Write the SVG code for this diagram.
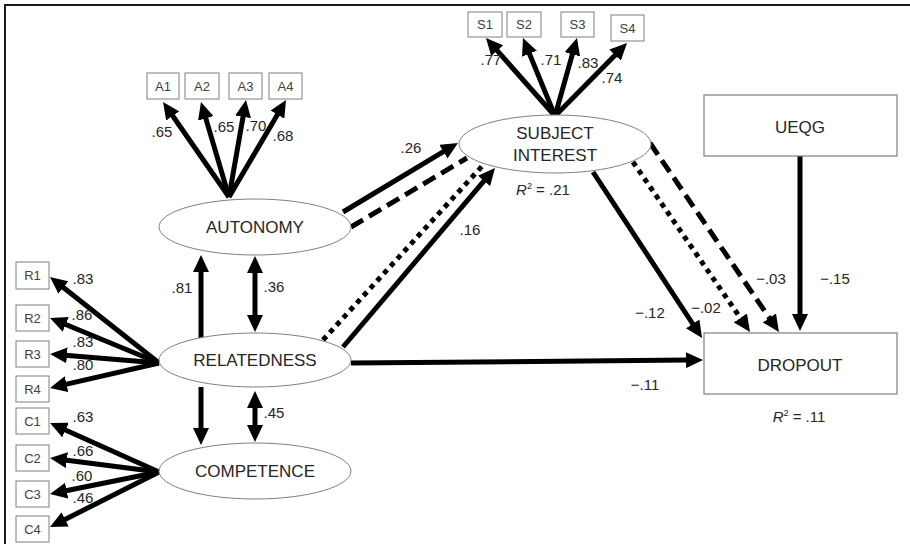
<svg xmlns="http://www.w3.org/2000/svg" width="910" height="544" viewBox="0 0 910 544">
<defs>
<marker id="ah" markerUnits="userSpaceOnUse" markerWidth="17" markerHeight="16" viewBox="0 0 17 16" refX="2" refY="8" orient="auto-start-reverse">
<path d="M0,0 L17,8 L0,16 z" fill="#000" stroke="none"/>
</marker>
</defs>
<style>
.bg{fill:#fff}
.frame{stroke:#1a1a1a;stroke-width:2;fill:none}
.ind{fill:#fff;stroke:#7f7f7f;stroke-width:1}
.lat{fill:#fff;stroke:#7f7f7f;stroke-width:1}
.obs{fill:#fff;stroke:#7f7f7f;stroke-width:1.2}
.il{font-family:"Liberation Sans",Arial,sans-serif;font-size:13px;fill:#404040;text-anchor:middle}
.nl{font-family:"Liberation Sans",Arial,sans-serif;font-size:17px;fill:#262626;text-anchor:middle}
.el{font-family:"Liberation Sans",Arial,sans-serif;font-size:15px;fill:#262626;text-anchor:middle}
.rs{font-family:"Liberation Sans",Arial,sans-serif;font-size:15px;fill:#262626;text-anchor:middle}
.a{stroke:#000;stroke-width:5;fill:none;marker-end:url(#ah)}
.d{stroke:#000;stroke-width:5;fill:none;marker-start:url(#ah);marker-end:url(#ah)}
.p{stroke:#000;stroke-width:5;fill:none}
.dash{stroke-dasharray:14 7}
.dot{stroke-dasharray:5 5}
</style>
<rect class="bg" x="0" y="0" width="910" height="544"/>
<path class="frame" d="M5,544 L5,5 L910,5"/>

<g id="connectors">
<line class="a" x1="229" y1="197" x2="171.6" y2="114.3"/>
<line class="a" x1="229" y1="197" x2="205.2" y2="116.4"/>
<line class="a" x1="229" y1="197" x2="243.4" y2="114.8"/>
<line class="a" x1="229" y1="197" x2="278.4" y2="112.9"/>
<line class="a" x1="555" y1="116" x2="495.9" y2="49.2"/>
<line class="a" x1="555" y1="116" x2="528.7" y2="51.9"/>
<line class="a" x1="555" y1="116" x2="572.9" y2="52.4"/>
<line class="a" x1="555" y1="116" x2="616.5" y2="53.7"/>
<line class="a" x1="159" y1="363" x2="61.8" y2="286.3"/>
<line class="a" x1="159" y1="363" x2="63.9" y2="323.7"/>
<line class="a" x1="159" y1="363" x2="65" y2="355.2"/>
<line class="a" x1="159" y1="363" x2="64.6" y2="384.6"/>
<line class="a" x1="159" y1="472" x2="63.7" y2="429.2"/>
<line class="a" x1="159" y1="472" x2="64.9" y2="459.9"/>
<line class="a" x1="159" y1="472" x2="64.7" y2="491"/>
<line class="a" x1="159" y1="472" x2="63.4" y2="520.3"/>
<line class="a" x1="343" y1="212" x2="445.1" y2="150.7"/>
<line class="p dash" x1="351" y1="227" x2="467" y2="158"/>
<line class="a" x1="343" y1="347" x2="485.3" y2="179.4"/>
<line class="p dot" x1="323" y1="340" x2="485" y2="163"/>
<line class="a" x1="351" y1="363" x2="688" y2="360.1"/>
<line class="a" x1="593" y1="172" x2="693.8" y2="325.5"/>
<line class="a dot" x1="633" y1="162" x2="741.5" y2="319.6"/>
<line class="a dash" x1="650" y1="143" x2="770.5" y2="319.6"/>
<line class="a" x1="800" y1="156" x2="800" y2="316"/>
<line class="a" x1="201" y1="338" x2="201" y2="270"/>
<line class="a" x1="201" y1="387" x2="201" y2="430"/>
<line class="d" x1="255" y1="271" x2="255" y2="317"/>
<line class="d" x1="255" y1="406" x2="255" y2="427"/>
</g>

<g id="labels">
<text class="el" x="162" y="137">.65</text>
<text class="el" x="224" y="132">.65</text>
<text class="el" x="256" y="131">.70</text>
<text class="el" x="283" y="141">.68</text>
<text class="el" x="491" y="65">.77</text>
<text class="el" x="551" y="65">.71</text>
<text class="el" x="588" y="68">.83</text>
<text class="el" x="612" y="83">.74</text>
<text class="el" x="83" y="284">.83</text>
<text class="el" x="82" y="320">.86</text>
<text class="el" x="83" y="347">.83</text>
<text class="el" x="83" y="370">.80</text>
<text class="el" x="83" y="422">.63</text>
<text class="el" x="83" y="456">.66</text>
<text class="el" x="82" y="481">.60</text>
<text class="el" x="83" y="503">.46</text>
<text class="el" x="182" y="293">.81</text>
<text class="el" x="274" y="292">.36</text>
<text class="el" x="274" y="418">.45</text>
<text class="el" x="411" y="153">.26</text>
<text class="el" x="470" y="235">.16</text>
<text class="el" x="650" y="318">−.12</text>
<text class="el" x="706" y="313">−.02</text>
<text class="el" x="771" y="284">−.03</text>
<text class="el" x="835" y="284">−.15</text>
<text class="el" x="645" y="390">−.11</text>
</g>

<g id="A1"><rect class="ind" x="147" y="73" width="32" height="26"/><text class="il" x="163" y="91">A1</text></g>
<g id="A2"><rect class="ind" x="185" y="73" width="34" height="26"/><text class="il" x="202" y="91">A2</text></g>
<g id="A3"><rect class="ind" x="229" y="73" width="33" height="26"/><text class="il" x="245.5" y="91">A3</text></g>
<g id="A4"><rect class="ind" x="269" y="73" width="33" height="26"/><text class="il" x="285.5" y="91">A4</text></g>

<g id="S1"><rect class="ind" x="468" y="12" width="34" height="25"/><text class="il" x="485" y="29">S1</text></g>
<g id="S2"><rect class="ind" x="507" y="12" width="34" height="25"/><text class="il" x="524" y="29">S2</text></g>
<g id="S3"><rect class="ind" x="561" y="12" width="33" height="25"/><text class="il" x="577.5" y="29">S3</text></g>
<g id="S4"><rect class="ind" x="611" y="15" width="33" height="26"/><text class="il" x="627.5" y="33">S4</text></g>

<g id="R1"><rect class="ind" x="16" y="262" width="33" height="27"/><text class="il" x="32.5" y="280">R1</text></g>
<g id="R2"><rect class="ind" x="16" y="305" width="33" height="26"/><text class="il" x="32.5" y="323">R2</text></g>
<g id="R3"><rect class="ind" x="16" y="341" width="33" height="26"/><text class="il" x="32.5" y="359">R3</text></g>
<g id="R4"><rect class="ind" x="16" y="376" width="33" height="26"/><text class="il" x="32.5" y="394">R4</text></g>
<g id="C1"><rect class="ind" x="16" y="408" width="33" height="26"/><text class="il" x="32.5" y="426">C1</text></g>
<g id="C2"><rect class="ind" x="16" y="445" width="33" height="26"/><text class="il" x="32.5" y="463">C2</text></g>
<g id="C3"><rect class="ind" x="16" y="481" width="33" height="26"/><text class="il" x="32.5" y="499">C3</text></g>
<g id="C4"><rect class="ind" x="16" y="516" width="33" height="26"/><text class="il" x="32.5" y="534">C4</text></g>

<g id="AUTONOMY"><ellipse class="lat" cx="255" cy="227" rx="96" ry="28"/><text class="nl" x="255" y="233">AUTONOMY</text></g>
<g id="RELATEDNESS"><ellipse class="lat" cx="255" cy="360" rx="96" ry="27"/><text class="nl" x="255" y="366">RELATEDNESS</text></g>
<g id="COMPETENCE"><ellipse class="lat" cx="255" cy="471" rx="96" ry="28"/><text class="nl" x="255" y="477">COMPETENCE</text></g>
<g id="SUBJECT_INTEREST"><ellipse class="lat" cx="555" cy="144" rx="96" ry="29"/><text class="nl" x="555" y="139">SUBJECT</text><text class="nl" x="555" y="161">INTEREST</text>
<text class="rs" x="543" y="195"><tspan font-style="italic">R</tspan><tspan font-size="9" dy="-6">2</tspan><tspan dy="6"> = .21</tspan></text></g>
<g id="UEQG"><rect class="obs" x="704" y="95" width="193" height="61"/><text class="nl" x="800" y="133">UEQG</text></g>
<g id="DROPOUT"><rect class="obs" x="704" y="333" width="193" height="61"/><text class="nl" x="800" y="371">DROPOUT</text>
<text class="rs" x="799" y="422"><tspan font-style="italic">R</tspan><tspan font-size="9" dy="-6">2</tspan><tspan dy="6"> = .11</tspan></text></g>
</svg>
